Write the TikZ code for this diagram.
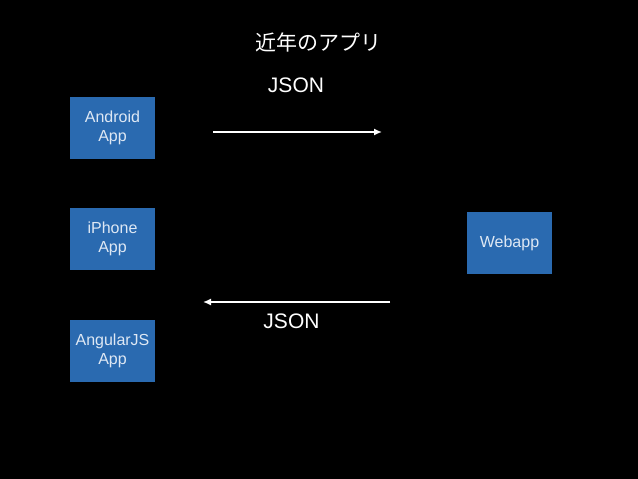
\documentclass[tikz,border=0pt]{standalone}
\usepackage{fontspec}
\setmainfont{Liberation Sans}
\newfontfamily\jpfont{Noto Sans CJK JP}
\usetikzlibrary{arrows.meta}
\definecolor{appblue}{RGB}{42,106,176}
\definecolor{apptext}{RGB}{222,232,244}
\tikzset{
	appbox/.style={fill=appblue, text=apptext, minimum width=85pt, minimum height=62pt, inner sep=0pt, align=center, font=\fontsize{16}{19}\selectfont},
	jsonlabel/.style={text=white, font=\fontsize{21}{24}\selectfont},
	flow/.style={draw=white, line width=1.5pt, -{Latex[length=8pt,width=7pt]}}
}
\begin{document}
\begin{tikzpicture}[x=1pt,y=-1pt]
			%%%%% START %%%%%
			
			\fill[black] (0, 0) rectangle (638, 479);
			\useasboundingbox (0, 0) rectangle (638, 479);
			
			\node[text=white, font=\jpfont\fontsize{21}{24}\selectfont] (title) at (318, 42) {近年のアプリ};
			
			\node[appbox] (android) at (112.5, 127.5) {Android\\App};
			\node[appbox] (iphone) at (112.5, 239) {iPhone\\App};
			\node[appbox] (angular) at (112.5, 350.5) {AngularJS\\App};
			\node[appbox] (webapp) at (509.5, 243) {Webapp};
			
			\coordinate (reqstart) at (213, 132);
			\coordinate (reqend) at (382, 132);
			\coordinate (resstart) at (390, 302);
			\coordinate (resend) at (203, 302);
			
			\node[jsonlabel] (reqjson) at (296, 85) {JSON};
			\node[jsonlabel] (resjson) at (291.5, 321) {JSON};
			
			\draw[flow] (reqstart) -- (reqend);
			\draw[flow] (resstart) -- (resend);
			
			%%%%% END %%%%%
\end{tikzpicture}
\end{document}
